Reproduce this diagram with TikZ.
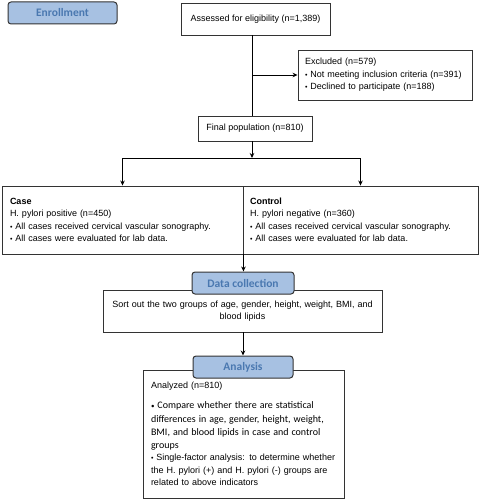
\documentclass[tikz,border=0pt]{standalone}
\usepackage{fontspec}
\setmainfont{Liberation Sans}
\newfontfamily\calib{Carlito}
\usetikzlibrary{arrows.meta}
\definecolor{tagfill}{HTML}{A7C1E2}
\definecolor{tagtext}{HTML}{4A78B0}
\tikzset{
  box/.style={draw=black!80, line width=0.9pt, inner ysep=0pt, inner xsep=7pt,
    font=\fontsize{9}{12.5}\selectfont},
  tag/.style={draw=black!80, line width=1pt, fill=tagfill, rounded corners=3pt,
    text=tagtext, inner sep=0pt, font=\calib\bfseries\fontsize{11.5}{13}\selectfont},
  arr/.style={-{Stealth[length=5pt,width=4.5pt]}, line width=0.9pt},
}
\newcommand{\bul}{\raisebox{0.3pt}{\fontsize{7}{7}\selectfont\textbullet}\ }

\begin{document}
\begin{tikzpicture}[x=1pt,y=-1pt]
\useasboundingbox (0,0) rectangle (484,500);
% enrollment
\node[tag, minimum width=109pt, minimum height=22pt] (enroll) at (62.5,13) {Enrollment};
\node[box, minimum width=149pt, minimum height=32pt] (assess) at (255.5,19)
  {Assessed for eligibility (n=1,389)};
\node[box, text width=160pt, align=left, minimum height=50pt] (excl) at (385,75)
  {Excluded (n=579)\\ \bul Not meeting inclusion criteria (n=391)\\ \bul Declined to participate (n=188)};
\node[box, minimum width=114pt, minimum height=25pt] (final) at (255,128.5)
  {Final population (n=810)};
% groups
\node[box, text width=225pt, inner xsep=8pt, align=left, minimum height=68pt] (case) at (122.5,220)
  {\textbf{Case}\\ H. pylori positive (n=450)\\ \bul All cases received cervical vascular sonography.\\ \bul All cases were evaluated for lab data.};
\node[box, text width=221pt, align=left, minimum height=68pt] (control) at (360.5,220)
  {\textbf{Control}\\ H. pylori negative (n=360)\\ \bul All cases received cervical vascular sonography.\\ \bul All cases were evaluated for lab data.};
% data collection
\node[box, text width=265pt, align=center, minimum height=42pt] (sort) at (242.5,311)
  {Sort out the two groups of age, gender, height, weight, BMI, and\\ blood lipids};
\node[tag, minimum width=102pt, minimum height=22pt] (datatag) at (243,283) {Data collection};
% analysis
\node[box, text width=185pt, inner xsep=8pt, align=left, minimum height=128pt] (ana) at (243.5,434)
  {Analyzed (n=810)\\[7pt]
   {\calib\fontsize{10}{13.5}\selectfont\bul Compare whether there are statistical\\ differences in age, gender, height, weight,\\ BMI, and blood lipids in case and control\\ groups}\\
   \bul Single-factor analysis: to determine whether\\ the H. pylori (+) and H. pylori ({-}) groups are\\ related to above indicators};
\node[tag, minimum width=100pt, minimum height=22pt] (anatag) at (243,367) {Analysis};
% connectors
\coordinate (trunk) at (252,0);
\coordinate (split) at (252,158);
\draw[line width=0.9pt] (assess.south -| trunk) -- (final.north -| trunk);
\draw[arr] (trunk |- excl.west) -- (excl.west);
\draw[arr] (final.south -| trunk) -- (split);
\draw[line width=0.9pt] (split -| case) -- (split -| control);
\draw[arr] (split -| case) -- (case.north);
\draw[arr] (split -| control) -- (control.north);
\draw[arr] (case.south east) -- (case.south east |- datatag.north);
\draw[arr] (sort.south -| datatag) -- (anatag.north);
\end{tikzpicture}
\end{document}
